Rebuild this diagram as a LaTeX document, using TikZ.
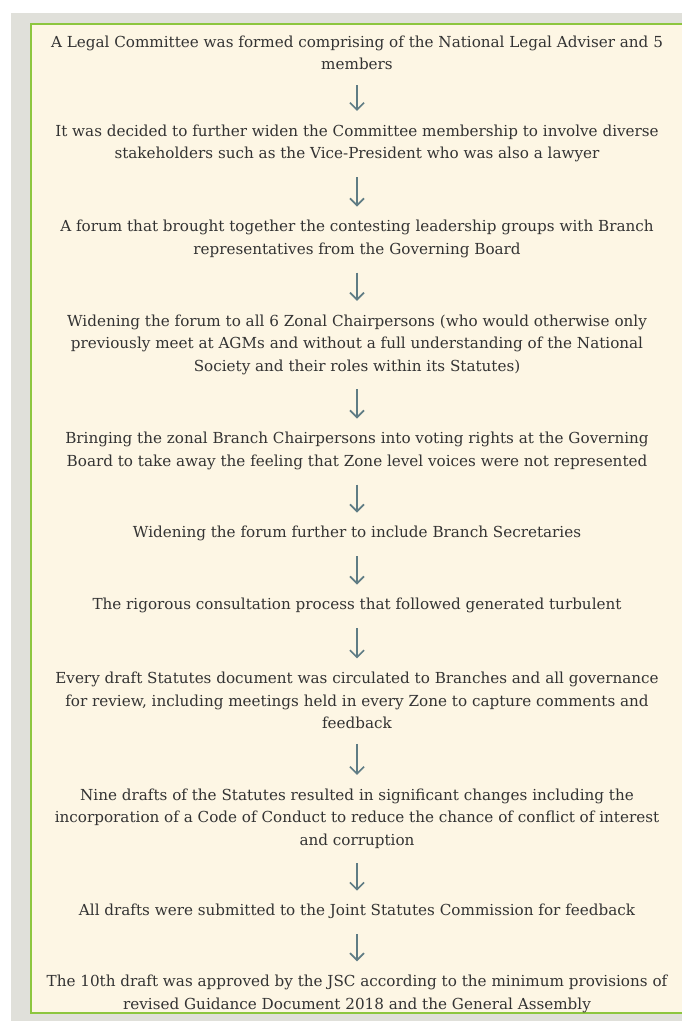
\documentclass[tikz,border=0pt]{standalone}
\usepackage{fontspec}
\setmainfont{DejaVu Serif}
\usetikzlibrary{arrows.meta}
\definecolor{pagegray}{HTML}{E0E0DA}
\definecolor{boxcream}{HTML}{FDF6E4}
\definecolor{boxgreen}{HTML}{8DC63F}
\definecolor{txtgray}{HTML}{333333}
\definecolor{arrgray}{HTML}{5F7C84}

\begin{document}
\begin{tikzpicture}[line width=0.8pt,
  stage/.style={align=center,text=txtgray,inner sep=0pt,font=\fontsize{10.8}{16}\selectfont},
  flow/.style={draw=arrgray,line width=1.2pt,-{Straight Barb[length=5pt,width=10pt]},
    shorten <=0.36cm,shorten >=0.33cm}]
\useasboundingbox (0,0) rectangle (17.025,25.525);
% ================= page and box =================
\fill[pagegray] (0.275,0) rectangle (17.3,25.2);
\draw[boxgreen,fill=boxcream,line width=1.3pt] (0.775,0.2) rectangle (17.3,24.925);
% ================= stages =================
\node[stage] (s1) at (8.925,24.20) {A Legal Committee was formed comprising of the National Legal Adviser and 5\\members};
\node[stage] (s2) at (8.925,21.94) {It was decided to further widen the Committee membership to involve diverse\\stakeholders such as the Vice-President who was also a lawyer};
\node[stage] (s3) at (8.925,19.55) {A forum that brought together the contesting leadership groups with Branch\\representatives from the Governing Board};
\node[stage] (s4) at (8.925,16.91) {Widening the forum to all 6 Zonal Chairpersons (who would otherwise only\\previously meet at AGMs and without a full understanding of the National\\Society and their roles within its Statutes)};
\node[stage] (s5) at (8.925,14.25) {Bringing the zonal Branch Chairpersons into voting rights at the Governing\\Board to take away the feeling that Zone level voices were not represented};
\node[stage] (s6) at (8.925,12.18) {Widening the forum further to include Branch Secretaries};
\node[stage] (s7) at (8.925,10.38) {The rigorous consultation process that followed generated turbulent};
\node[stage] (s8) at (8.925,8.01) {Every draft Statutes document was circulated to Branches and all governance\\for review, including meetings held in every Zone to capture comments and\\feedback};
\node[stage] (s9) at (8.925,5.06) {Nine drafts of the Statutes resulted in significant changes including the\\incorporation of a Code of Conduct to reduce the chance of conflict of interest\\and corruption};
\node[stage] (s10) at (8.925,2.73) {All drafts were submitted to the Joint Statutes Commission for feedback};
\node[stage] (s11) at (8.925,0.68) {The 10th draft was approved by the JSC according to the minimum provisions of\\revised Guidance Document 2018 and the General Assembly};
% ================= arrows =================
\foreach \a/\b in {s1/s2,s2/s3,s3/s4,s4/s5,s5/s6,s6/s7,s7/s8,s8/s9,s9/s10,s10/s11}
  \draw[flow] (\a) -- (\b);
\end{tikzpicture}
\end{document}
